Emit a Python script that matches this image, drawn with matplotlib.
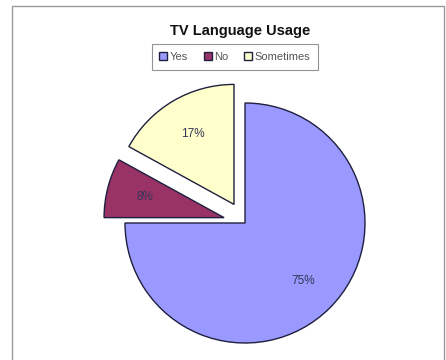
import matplotlib
matplotlib.use("Agg")
import matplotlib.pyplot as plt
from matplotlib.patches import Rectangle
plt.rcParams["font.family"] = ["Liberation Sans", "DejaVu Sans"]

# data
labels = ["Yes", "No", "Sometimes"]
values = [75, 8, 17]
colors = ["#9999FF", "#993366", "#FFFFCC"]
explode_frac = [0, 0.18, 0.18]

R = 120  # pie radius in pixels

fig = plt.figure(figsize=(4.46, 3.6), dpi=100)
ax = fig.add_axes([0, 0, 1, 1])

# outer chart frame
fig.patches.append(Rectangle((12 / 446, -0.1), 432 / 446, 1.1 - 6 / 360,
                             transform=fig.transFigure, fill=False,
                             edgecolor="#9a9a9a", linewidth=1))

# matplotlib's explode offset is in data units, so scale by radius
wedges, texts, autotexts = ax.pie(
    values, colors=colors, explode=[e * R for e in explode_frac],
    startangle=90, counterclock=False,
    center=(245, 137), radius=R, autopct="%1.0f%%", pctdistance=0.68,
    wedgeprops=dict(edgecolor="#1f1f3f", linewidth=1),
    textprops=dict(fontsize=8.5, color="#333355"), frame=True)
ax.set_xlim(0, 446)
ax.set_ylim(0, 360)
ax.set_aspect("equal")
ax.axis("off")

fig.text(240 / 446, 1 - 31 / 360, "TV Language Usage", ha="center", va="center",
         fontsize=10.5, fontweight="bold", color="#111111")

leg = fig.legend(wedges, labels, loc="center", ncol=3,
                 bbox_to_anchor=(235 / 446, 1 - 57 / 360), fontsize=8,
                 frameon=True, fancybox=False, edgecolor="#777777",
                 handlelength=0.7, handleheight=0.7, handletextpad=0.25,
                 columnspacing=1.4, borderpad=0.7, borderaxespad=0)
for t in leg.get_texts():
    t.set_color("#555555")
leg.get_frame().set_linewidth(0.8)

fig.savefig("out.png", dpi=100)
